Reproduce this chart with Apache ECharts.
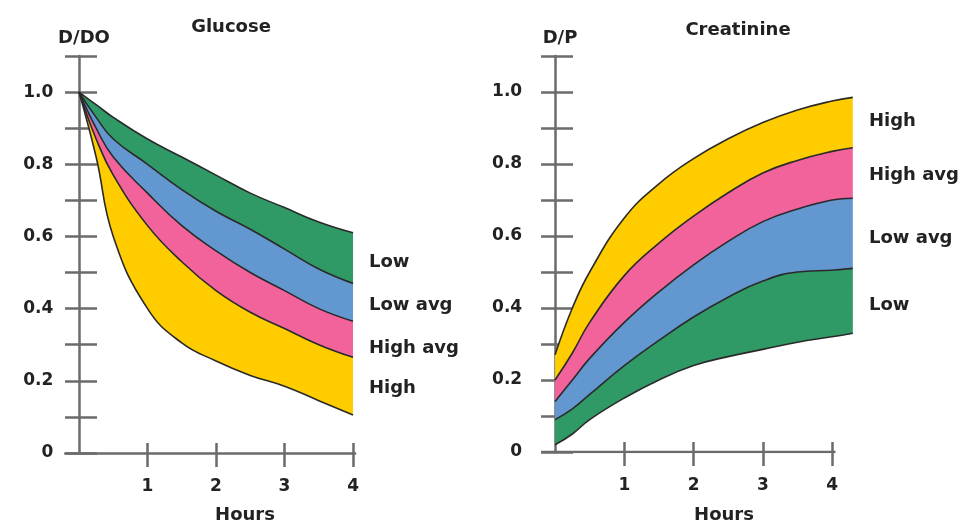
<!DOCTYPE html>
<html>
<head>
<meta charset="utf-8">
<script src="https://cdn.jsdelivr.net/npm/echarts@6/dist/echarts.min.js"></script>
<style>
  html, body { margin: 0; padding: 0; background: #fff; }
  #chart { width: 974px; height: 522px; }
</style>
</head>
<body>
<div id="chart"></div>
<script>
// Glucose D/D0 — band boundaries, bottom to top
const glucoseHours = [0, 0.25, 0.5, 1, 1.5, 2, 2.5, 3, 3.5, 4];
const glucoseHighBottom = [1.0, 0.82, 0.60, 0.40, 0.305, 0.255, 0.215, 0.185, 0.145, 0.105];
const glucoseHighTop    = [1.0, 0.87, 0.77, 0.63, 0.53, 0.45, 0.39, 0.345, 0.30, 0.265];
const glucoseHighAvgTop = [1.0, 0.90, 0.82, 0.72, 0.63, 0.56, 0.50, 0.45, 0.40, 0.365];
const glucoseLowAvgTop  = [1.0, 0.93, 0.87, 0.80, 0.73, 0.67, 0.62, 0.565, 0.51, 0.47];
const glucoseLowTop     = [1.0, 0.965, 0.93, 0.87, 0.82, 0.77, 0.72, 0.68, 0.64, 0.61];

// Creatinine D/P — band boundaries, bottom to top
const creatHours = [0, 0.25, 0.5, 1, 1.5, 2, 2.5, 3, 3.5, 4, 4.3];
const creatLowBottom    = [0.02, 0.05, 0.09, 0.15, 0.20, 0.24, 0.265, 0.285, 0.305, 0.32, 0.33];
const creatLowTop       = [0.09, 0.12, 0.16, 0.24, 0.31, 0.375, 0.43, 0.475, 0.50, 0.505, 0.51];
const creatLowAvgTop    = [0.14, 0.20, 0.26, 0.36, 0.445, 0.52, 0.585, 0.64, 0.675, 0.70, 0.705];
const creatHighAvgTop   = [0.20, 0.275, 0.36, 0.49, 0.58, 0.655, 0.72, 0.775, 0.81, 0.835, 0.845];
const creatHighTop      = [0.27, 0.40, 0.50, 0.65, 0.745, 0.815, 0.87, 0.915, 0.95, 0.975, 0.985];

const hourTicks = [1, 2, 3, 4];
const creatAxisSpan = [-0.2, 4.05];   // drawn hours line stops short of the bands
const glucoseLabels = ['Low', 'Low avg', 'High avg', 'High'];
const creatLabels = ['High', 'High avg', 'Low avg', 'Low'];

const GREEN = '#2f9a66';
const BLUE = '#6297d0';
const PINK = '#f2629b';
const YELLOW = '#ffcc00';
const AXIS = '#6b6b6b';
const INK = '#222';
const FONT = 'DejaVu Sans';

const chart = echarts.init(document.getElementById('chart'), null, { renderer: 'canvas' });

function bandSeries(axisIdx, stack, hours, bounds, colors) {
  // bounds: bottom edge first, then each band's top edge; stacked as thickness.
  // value goes in dim 0 so the stack runs on y, not on the hours
  const out = [];
  bounds.forEach((b, k) => {
    const vals = k === 0 ? b : b.map((v, i) => +(v - bounds[k - 1][i]).toFixed(4));
    const s = {
      type: 'line',
      stack: stack,
      stackStrategy: 'all',
      xAxisIndex: axisIdx,
      yAxisIndex: axisIdx,
      data: hours.map((h, i) => [vals[i], h]),
      encode: { x: 1, y: 0 },
      symbol: 'none',
      smooth: 0.45,
      silent: true,
      z: 3,
      lineStyle: { color: '#2a2a2a', width: 1.6 }
    };
    if (k > 0) {
      s.areaStyle = { color: colors[k - 1], opacity: 1 };
    }
    out.push(s);
  });
  return out;
}

function yLabel(v) {
  const n = Math.round(v * 10);
  if (n % 2 !== 0 || n > 10) return '';
  return n === 0 ? '0' : (n / 10).toFixed(1);
}

function makeAxes(gridIdx, xMax, labelMargin, showLine) {
  const textStyle = { color: INK, fontFamily: FONT, fontWeight: 'bold', fontSize: 17 };
  const xAxes = [
    {
      type: 'value', gridIndex: gridIdx, position: 'bottom', min: -0.2, max: xMax,
      axisLine: { show: showLine, onZero: true, lineStyle: { color: AXIS, width: 2.5 } },
      axisTick: { show: true, length: 14, customValues: hourTicks, lineStyle: { color: AXIS, width: 2.5 } },
      axisLabel: Object.assign({ customValues: hourTicks, margin: 25 }, textStyle),
      splitLine: { show: false }
    },
    {
      type: 'value', gridIndex: gridIdx, position: 'bottom', min: -0.2, max: xMax,
      axisLine: { show: false, onZero: true },
      axisTick: { show: true, inside: true, length: 10, customValues: hourTicks, lineStyle: { color: AXIS, width: 2.5 } },
      axisLabel: { show: false },
      splitLine: { show: false }
    }
  ];
  const yAxes = [
    {
      type: 'value', gridIndex: gridIdx, position: 'left', min: 0, max: 1.1, interval: 0.1,
      axisLine: { show: true, onZero: true, lineStyle: { color: AXIS, width: 2.5 } },
      axisTick: { show: true, length: 14, lineStyle: { color: AXIS, width: 2.5 } },
      axisLabel: Object.assign({ margin: labelMargin, formatter: yLabel }, textStyle),
      splitLine: { show: false }
    },
    {
      type: 'value', gridIndex: gridIdx, position: 'left', min: 0, max: 1.1, interval: 0.1,
      axisLine: { show: false, onZero: true },
      axisTick: { show: true, inside: true, length: 18, lineStyle: { color: AXIS, width: 2.5 } },
      axisLabel: { show: false },
      splitLine: { show: false }
    }
  ];
  return { xAxes, yAxes };
}

const leftAxes = makeAxes(0, 4.03, 12, true);
const rightAxes = makeAxes(1, 4.32, 19, false);

// second axis pair in each grid only carries the cross ticks
const xAxis = [leftAxes.xAxes[0], rightAxes.xAxes[0], leftAxes.xAxes[1], rightAxes.xAxes[1]];
const yAxis = [leftAxes.yAxes[0], rightAxes.yAxes[0], leftAxes.yAxes[1], rightAxes.yAxes[1]];

const series = [].concat(
  bandSeries(0, 'glucose', glucoseHours,
    [glucoseHighBottom, glucoseHighTop, glucoseHighAvgTop, glucoseLowAvgTop, glucoseLowTop],
    [YELLOW, PINK, BLUE, GREEN]),
  bandSeries(1, 'creat', creatHours,
    [creatLowBottom, creatLowTop, creatLowAvgTop, creatHighAvgTop, creatHighTop],
    [GREEN, BLUE, PINK, YELLOW]),
  [{
    type: 'line',
    xAxisIndex: 1,
    yAxisIndex: 1,
    data: creatAxisSpan.map(h => [0, h]),
    encode: { x: 1, y: 0 },
    symbol: 'none',
    silent: true,
    z: 1,
    lineStyle: { color: AXIS, width: 2.5 }
  }]
);

function txt(x, y, s, align) {
  return {
    type: 'text', x: x, y: y, silent: true,
    style: {
      text: s, fill: INK, font: 'bold 18px "' + FONT + '"',
      textAlign: align || 'center', textVerticalAlign: 'middle'
    }
  };
}

const leftLabelY = [262, 305, 348, 388];
const rightLabelY = [121, 175, 238, 305];

const graphics = [
  txt(231, 27, 'Glucose'),
  txt(738, 30, 'Creatinine'),
  txt(84, 38, 'D/DO'),
  txt(560, 38, 'D/P'),
  txt(245, 515, 'Hours'),
  txt(724, 515, 'Hours')
]
  .concat(glucoseLabels.map((s, i) => txt(369, leftLabelY[i], s, 'left')))
  .concat(creatLabels.map((s, i) => txt(869, rightLabelY[i], s, 'left')));

chart.setOption({
  animation: false,
  backgroundColor: '#fff',
  grid: [
    { left: 65.3, top: 56, width: 289.8, height: 397 },
    { left: 541.2, top: 56, width: 313, height: 396 }
  ],
  xAxis: xAxis,
  yAxis: yAxis,
  series: series,
  graphic: graphics
});
</script>
</body>
</html>
